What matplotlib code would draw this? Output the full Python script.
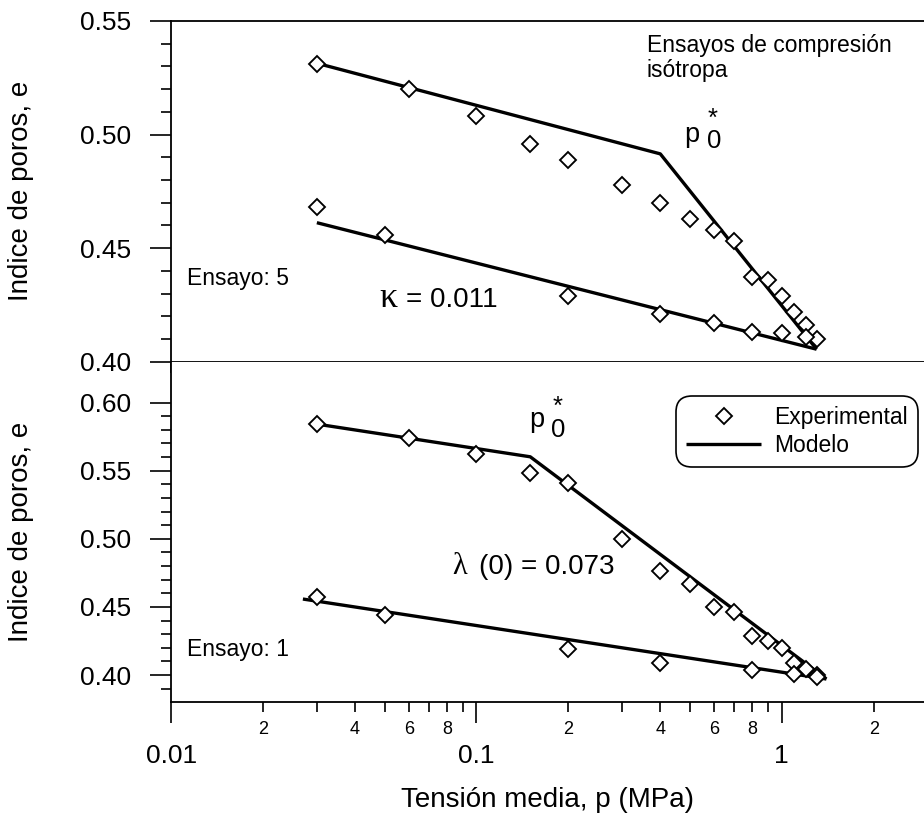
import matplotlib
matplotlib.use("Agg")
import matplotlib.pyplot as plt
from matplotlib.ticker import FixedLocator, FuncFormatter, NullFormatter

plt.rcParams['font.family'] = ['Liberation Sans', 'DejaVu Sans']

# ---- Ensayo 5 (upper panel) ----
p5_load = [0.03, 0.06, 0.1, 0.15, 0.2, 0.3, 0.4, 0.5, 0.6, 0.7, 0.8, 0.9, 1.0, 1.1, 1.2, 1.3]
e5_load = [0.531, 0.520, 0.508, 0.496, 0.489, 0.478, 0.470, 0.463, 0.458, 0.453,
           0.4375, 0.436, 0.429, 0.422, 0.416, 0.410]
p5_unload = [0.03, 0.05, 0.2, 0.4, 0.6, 0.8, 1.0, 1.2]
e5_unload = [0.468, 0.456, 0.429, 0.421, 0.417, 0.413, 0.4125, 0.411]
p5_model_load = [0.03, 0.4, 1.3]
e5_model_load = [0.5314, 0.4915, 0.4055]
p5_model_unload = [0.03, 1.3]
e5_model_unload = [0.4612, 0.4055]

# ---- Ensayo 1 (lower panel) ----
p1_load = [0.03, 0.06, 0.1, 0.15, 0.2, 0.3, 0.4, 0.5, 0.6, 0.7, 0.8, 0.9, 1.0, 1.1, 1.2, 1.3]
e1_load = [0.584, 0.574, 0.562, 0.548, 0.541, 0.500, 0.4765, 0.467, 0.4496, 0.446,
           0.429, 0.425, 0.4195, 0.409, 0.4044, 0.400]
p1_unload = [0.03, 0.05, 0.2, 0.4, 0.8, 1.1, 1.3]
e1_unload = [0.457, 0.444, 0.419, 0.409, 0.404, 0.4007, 0.3988]
p1_model_load = [0.03, 0.15, 1.4]
e1_model_load = [0.5842, 0.5602, 0.3971]
p1_model_unload = [0.027, 1.4]
e1_model_unload = [0.4558, 0.3971]

x_major = [0.01, 0.1, 1]
x_major_labels = ['0.01', '0.1', '1']
x_minor_mult = [2, 3, 4, 5, 6, 7, 8, 9]
x_minor_labelled = [2, 4, 6, 8]
x_minor = [m * d for d in (0.01, 0.1, 1) for m in x_minor_mult]
y5_major = [0.40, 0.45, 0.50, 0.55]
y5_minor = [0.41, 0.42, 0.43, 0.44, 0.46, 0.47, 0.48, 0.49, 0.51, 0.52, 0.53, 0.54]
y1_major = [0.40, 0.45, 0.50, 0.55, 0.60]
y1_minor = [0.39, 0.41, 0.42, 0.43, 0.44, 0.46, 0.47, 0.48, 0.49,
            0.51, 0.52, 0.53, 0.54, 0.56, 0.57, 0.58, 0.59]

W, H = 924, 821
fig = plt.figure(figsize=(W / 100, H / 100), dpi=100)


def fx(x):
    return x / W


def fy(y):
    return 1 - y / H


left, right = 171.2, 924
ax5 = fig.add_axes([fx(left), fy(361.7), fx(right - left), (361.7 - 21) / H])
ax1 = fig.add_axes([fx(left), fy(702.3), fx(right - left), (702.3 - 361.7) / H])

XMIN, XMAX = 0.01, 2.923
mk = dict(ls='none', marker='D', ms=7.8, mfc='white', mec='black', mew=1.35, zorder=3)
ln = dict(color='black', lw=2.4, zorder=2, solid_capstyle='butt')


def major_label(v, _):
    i = min(range(len(x_major)), key=lambda k: abs(x_major[k] - v))
    return x_major_labels[i]


def minor_label(v, _):
    for d in (0.01, 0.1, 1):
        for m in x_minor_labelled:
            if abs(v - m * d) < 1e-9:
                return str(m)
    return ''


for ax in (ax5, ax1):
    ax.set_xscale('log')
    ax.set_xlim(XMIN, XMAX)
    ax.spines['right'].set_visible(False)
    for s in ax.spines.values():
        s.set_linewidth(1.3)
    ax.xaxis.set_major_locator(FixedLocator(x_major))
    ax.xaxis.set_minor_locator(FixedLocator(x_minor))
    ax.tick_params(axis='y', which='major', direction='out', length=15, width=1.2,
                   labelsize=19, pad=14)
    ax.tick_params(axis='y', which='minor', direction='out', length=7, width=1.2)
    ax.yaxis.set_minor_formatter(NullFormatter())
    ax.yaxis.set_major_formatter(FuncFormatter(lambda v, _: f'{v:.2f}'))

# upper panel
ax5.set_ylim(0.40, 0.55)
ax5.yaxis.set_major_locator(FixedLocator(y5_major))
ax5.yaxis.set_minor_locator(FixedLocator(y5_minor))
ax5.tick_params(axis='x', which='major', direction='out', length=8, width=1.2,
                labelbottom=False)
ax5.tick_params(axis='x', which='minor', direction='out', length=4, width=1.2,
                labelbottom=False)
ax5.plot(p5_model_load, e5_model_load, **ln)
ax5.plot(p5_model_unload, e5_model_unload, **ln)
ax5.plot(p5_load, e5_load, **mk)
ax5.plot(p5_unload, e5_unload, **mk)

# lower panel
ax1.set_ylim(0.38, 0.63)
ax1.spines['top'].set_visible(False)
ax1.yaxis.set_major_locator(FixedLocator(y1_major))
ax1.yaxis.set_minor_locator(FixedLocator(y1_minor))
ax1.xaxis.set_major_formatter(FuncFormatter(major_label))
ax1.xaxis.set_minor_formatter(FuncFormatter(minor_label))
ax1.tick_params(axis='x', which='major', direction='out', length=15, width=1.2,
                labelsize=19, pad=15)
ax1.tick_params(axis='x', which='minor', direction='out', length=7.5, width=1.2,
                labelsize=13, pad=6)
h_model, = ax1.plot(p1_model_load, e1_model_load, **ln)
ax1.plot(p1_model_unload, e1_model_unload, **ln)
h_exp, = ax1.plot(p1_load, e1_load, **mk)
ax1.plot(p1_unload, e1_unload, **mk)

ax1.set_xlabel('Tensión media, p (MPa)', fontsize=20, labelpad=14)

# axis titles
for yc in ((21 + 361.7) / 2, (361.7 + 702.3) / 2):
    fig.text(fx(21), fy(yc), 'Indice de poros, e', rotation=90, fontsize=20,
             ha='center', va='center')

# annotations
fig.text(fx(646.7), fy(34), 'Ensayos de compresión\nisótropa', fontsize=16.5,
         ha='left', va='top', linespacing=1.1)
fig.text(fx(238), fy(278.3), 'Ensayo: 5', fontsize=16.5, ha='center', va='center')
fig.text(fx(238), fy(649), 'Ensayo: 1', fontsize=16.5, ha='center', va='center')

fig.text(fx(379), fy(307), 'κ', fontsize=26, family='Liberation Serif',
         ha='left', va='baseline')
fig.text(fx(406), fy(300), '= 0.011', fontsize=20, ha='left', va='center')
fig.text(fx(452), fy(566.7), 'λ', fontsize=22, family='Liberation Serif',
         ha='left', va='center')
fig.text(fx(479), fy(566.7), '(0) = 0.073', fontsize=20, ha='left', va='center')

# p0* labels
for (px_, py_), (zx, zy), (sx, sy) in (
        ((684, 141.7), (707.5, 148.3), (712.7, 125.6)),
        ((529, 426.7), (551, 436.7), (557.3, 414.0))):
    fig.text(fx(px_), fy(py_), 'p', fontsize=19.5, ha='left', va='baseline')
    fig.text(fx(zx), fy(zy), '0', fontsize=18.5, ha='left', va='baseline')
    fig.text(fx(sx), fy(sy), '*', fontsize=18.5, ha='center', va='baseline')

leg = ax1.legend([h_exp, h_model], ['Experimental', 'Modelo'],
                 loc='upper right', bbox_to_anchor=(fx(918.3), fy(395.7)),
                 bbox_transform=fig.transFigure, fontsize=16.5, frameon=True,
                 fancybox=True, framealpha=1, edgecolor='black',
                 handlelength=3.27, handletextpad=0.58, borderpad=0.45,
                 labelspacing=0.2, borderaxespad=0)
leg.get_frame().set_linewidth(1.2)
leg.get_frame().set_boxstyle('round,pad=0,rounding_size=0.7')

fig.savefig('out.png', dpi=100)
